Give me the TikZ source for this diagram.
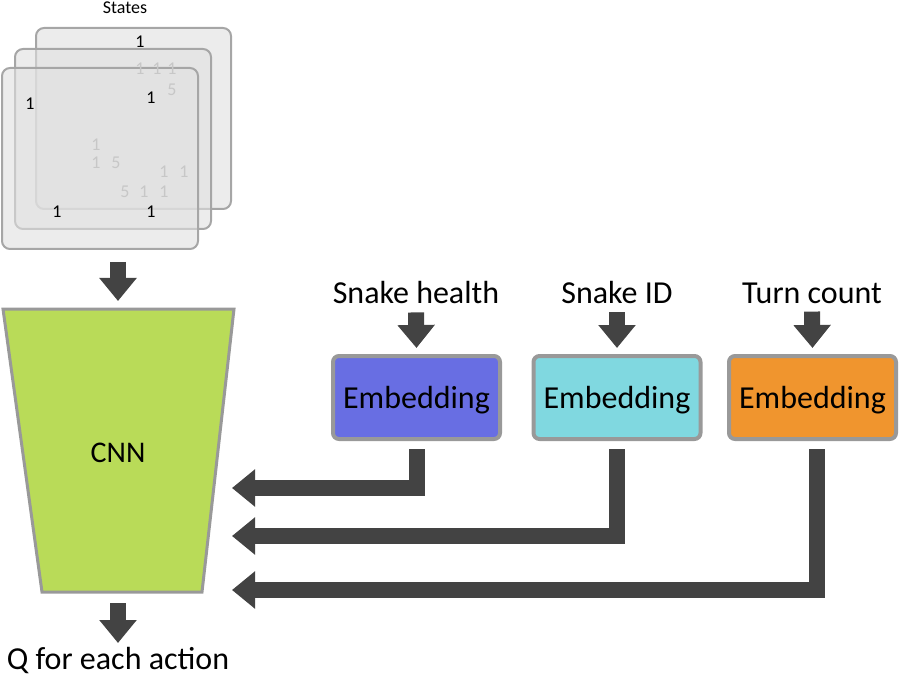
\documentclass[tikz,border=0pt]{standalone}
\usepackage{fontspec}
\setmainfont{Carlito}
\usepackage{tikz}
\usetikzlibrary{arrows.meta,calc}
\usepackage{xcolor}
\definecolor{embblue}{RGB}{104,110,227}
\definecolor{embcyan}{RGB}{128,216,224}
\definecolor{emborange}{RGB}{240,149,46}
\definecolor{cnngreen}{RGB}{185,219,88}
\definecolor{edgegray}{RGB}{153,153,153}
\definecolor{arrowgray}{RGB}{67,67,67}
\definecolor{layeredge}{RGB}{166,166,166}

\begin{document}
\begin{tikzpicture}[x=1pt,y=-1pt,
    bigtext/.style={font=\fontsize{32}{38}\selectfont, inner sep=0pt},
    smalltext/.style={font=\fontsize{18}{22}\selectfont, inner sep=0pt},
    fadetext/.style={smalltext, text=black!22},
    layer/.style={draw=layeredge, line width=2pt, fill=black!12, fill opacity=0.6, rounded corners=8pt},
    embbox/.style={bigtext, text depth=0pt, draw=edgegray, line width=4pt, rounded corners=6pt, minimum width=167pt, minimum height=83pt},
    blockarrow/.style={draw=arrowgray, line width=16pt, -{Triangle[width=36pt,length=23pt]}}]
		\useasboundingbox (0,0) rectangle (900,679);

		% stack of states
		\node[smalltext] (states) at (125,8) {States};
		\filldraw[layer] (36,28) rectangle (231,209);% back
		\filldraw[layer] (15,49) rectangle (211,229);% middle
		\filldraw[layer] (2,68) rectangle (198,249);% front
		\foreach \x/\y/\d [count=\i] in {140/69/1,157/69/1,172/69/1,172/90/5,96/145/1,96/163/1,116/163/5,164/172/1,184/172/1,125/192/5,144/192/1,164/192/1}{% digits seen through
			\node[fadetext] (fade\i) at (\x,\y) {\d};
		}
		\foreach \x/\y [count=\i] in {140/42,30/104,151/98,57/212,151/212}{% digits on top
			\node[smalltext] (digit\i) at (\x,\y) {1};
		}

		% CNN
		\coordinate (cnnTL) at (3,309);
		\coordinate (cnnTR) at (234,309);
		\coordinate (cnnBR) at (202,592);
		\coordinate (cnnBL) at (42,592);
		\filldraw[fill=cnngreen, draw=edgegray, line width=3pt] (cnnTL) -- (cnnTR) -- (cnnBR) -- (cnnBL) -- cycle;
		\node[font=\fontsize{30}{36}\selectfont, inner sep=0pt] (cnn) at (118,453) {CNN};
		\node[bigtext] (qout) at (118,661) {Q for each action};

		\coordinate (stackOut) at (118,262);
		\coordinate (cnnIn)    at (118,301);
		\coordinate (cnnOut)   at (118,603);
		\coordinate (qIn)      at (118,643);
		\draw[blockarrow] (stackOut) -- (cnnIn);
		\draw[blockarrow] (cnnOut) -- (qIn);

		% embeddings
		\node[bigtext] (inHealth) at (416,293) {Snake health};
		\node[bigtext] (inId)     at (617,293) {Snake ID};
		\node[bigtext] (inTurn)   at (812,293) {Turn count};
		\node[embbox, fill=embblue]   (embHealth) at (416.5,397.5) {Embedding};
		\node[embbox, fill=embcyan]   (embId)     at (617,397.5)   {Embedding};
		\node[embbox, fill=emborange] (embTurn)   at (812.5,397.5) {Embedding};
		\foreach \n in {Health,Id,Turn}{% short arrows into the boxes
			\draw[blockarrow] ($(in\n.south)+(0,8)$) -- ($(emb\n.north)+(0,-6)$);
		}

		\coordinate (cnnIn1) at (232,488);
		\coordinate (cnnIn2) at (232,536);
		\coordinate (cnnIn3) at (232,590);
		\draw[blockarrow] ($(embHealth.south)+(0,8)$) |- (cnnIn1);
		\draw[blockarrow] ($(embId.south)+(0,8)$) |- (cnnIn2);
		\draw[blockarrow] ($(embTurn.south)+(4,8)$) |- (cnnIn3);
	\end{tikzpicture}
\end{document}
